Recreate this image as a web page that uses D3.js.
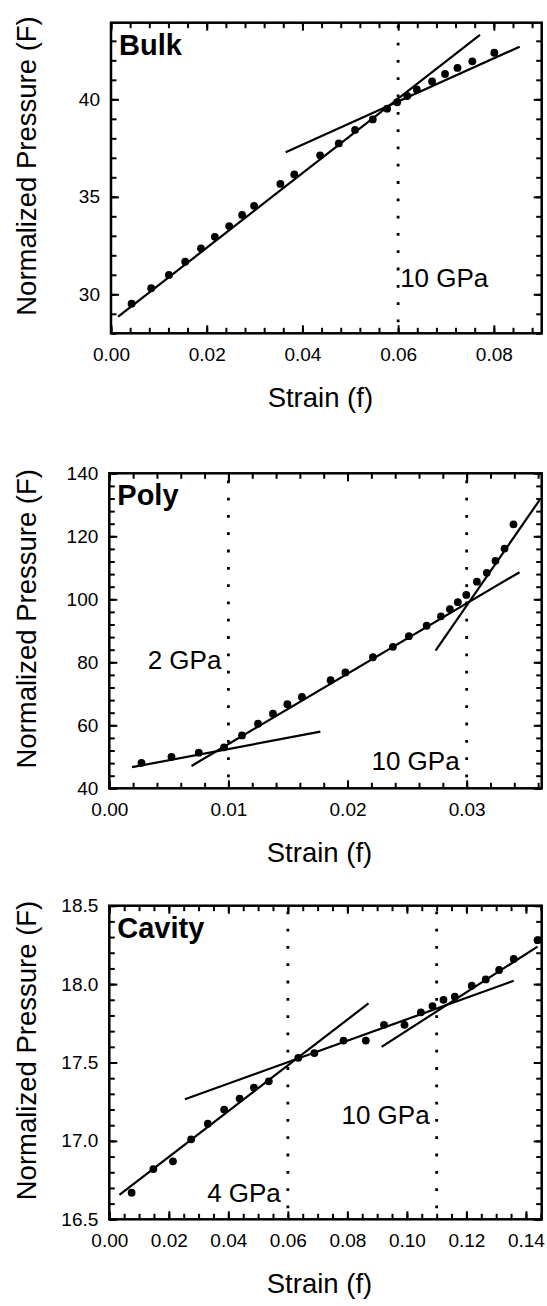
<!DOCTYPE html>
<html><head><meta charset="utf-8">
<script src="https://cdn.jsdelivr.net/npm/d3@7"></script>
<style>
body{margin:0;background:#fff}
svg{display:block;background:#fff}
text{font-family:"Liberation Sans",Arial,Helvetica,sans-serif;fill:#000}
</style>
</head><body><script>
// ---------- DATA ----------
// Bulk
const bulkStrain   = [0.0043,0.0084,0.0121,0.0155,0.0188,0.0217,0.0247,0.0274,0.0299,0.0354,0.0383,0.0437,0.0476,0.0510,0.0547,0.0577,0.0598,0.0619,0.0639,0.0671,0.0698,0.0724,0.0755,0.0801];
const bulkPressure = [29.52,30.31,30.99,31.67,32.36,32.95,33.50,34.07,34.54,35.66,36.15,37.13,37.74,38.43,38.97,39.52,39.85,40.17,40.51,40.92,41.30,41.61,41.95,42.39];
const bulkFits     = [[[0.0015,28.85],[0.0771,43.30]], [[0.0365,37.28],[0.0854,42.70]]];
const bulkMarks    = [0.06];
const bulkXTicks   = [0.00,0.02,0.04,0.06,0.08];
const bulkYTicks   = [30,35,40];
const bulkNotes    = [{text:"10 GPa", strain:0.06, pressure:30.36, anchor:"start"}];

// Poly
const polyStrain   = [0.00270,0.00522,0.00751,0.00963,0.01114,0.01248,0.01374,0.01495,0.01617,0.01858,0.01982,0.02213,0.02381,0.02515,0.02664,0.02784,0.02859,0.02926,0.02997,0.03086,0.03169,0.03242,0.03318,0.03393];
const polyPressure = [48.1,50.0,51.3,53.0,56.8,60.5,63.7,66.7,69.0,74.3,76.8,81.6,84.9,88.3,91.6,94.6,96.9,99.1,101.4,105.6,108.4,112.2,116.1,123.8];
const polyFits     = [[[0.00191,46.7],[0.01772,58.0]], [[0.0069,47.1],[0.03444,108.6]], [[0.02739,83.7],[0.03612,131.5]]];
const polyMarks    = [0.01,0.03];
const polyXTicks   = [0.00,0.01,0.02,0.03];
const polyYTicks   = [40,60,80,100,120,140];
const polyNotes    = [{text:"2 GPa", strain:0.01, pressure:77.9, anchor:"end"},
                      {text:"10 GPa", strain:0.03, pressure:45.7, anchor:"end"}];

// Cavity
const cavStrain    = [0.0075,0.0148,0.0214,0.0275,0.0331,0.0386,0.0438,0.0486,0.0536,0.0635,0.0689,0.0787,0.0862,0.0923,0.0992,0.1047,0.1086,0.1123,0.1161,0.1218,0.1265,0.1310,0.1359,0.1439];
const cavPressure  = [16.67,16.82,16.87,17.01,17.11,17.20,17.27,17.34,17.38,17.53,17.56,17.64,17.64,17.74,17.74,17.82,17.86,17.90,17.92,17.99,18.03,18.09,18.16,18.28];
const cavFits      = [[[0.0034,16.655],[0.0871,17.877]], [[0.0254,17.266],[0.1359,18.021]], [[0.0915,17.60],[0.1439,18.239]]];
const cavMarks     = [0.06,0.11];
const cavXTicks    = [0.00,0.02,0.04,0.06,0.08,0.10,0.12,0.14];
const cavYTicks    = [16.5,17.0,17.5,18.0,18.5];
const cavNotes     = [{text:"4 GPa", strain:0.06, pressure:16.612, anchor:"end"},
                      {text:"10 GPa", strain:0.11, pressure:17.108, anchor:"end"}];

const xTitle = "Strain (f)";
const yTitle = "Normalized Pressure (F)";

// ---------- LAYOUT ----------
const W = 547, H = 1306;
const FONT_TICK = 19, FONT_TITLE = 27.5, FONT_NAME = 29, FONT_NOTE = 26;

const panels = [
  {name:"Bulk", strain:bulkStrain, pressure:bulkPressure, fits:bulkFits, marks:bulkMarks,
   xTicks:bulkXTicks, yTicks:bulkYTicks, notes:bulkNotes,
   xDomain:[0,0.09], yDomain:[28,43.93], xMinor:0.004, yMinor:1,
   xFmt:".2f", yFmt:"d", box:{left:111,right:541.7,top:22.7,bottom:333.3}},
  {name:"Poly", strain:polyStrain, pressure:polyPressure, fits:polyFits, marks:polyMarks,
   xTicks:polyXTicks, yTicks:polyYTicks, notes:polyNotes,
   xDomain:[0,0.0363], yDomain:[40,140], xMinor:0.002, yMinor:4,
   xFmt:".2f", yFmt:"d", box:{left:109.3,right:541.7,top:473.3,bottom:788.3}},
  {name:"Cavity", strain:cavStrain, pressure:cavPressure, fits:cavFits, marks:cavMarks,
   xTicks:cavXTicks, yTicks:cavYTicks, notes:cavNotes,
   xDomain:[0,0.1453], yDomain:[16.5,18.5], xMinor:0.005, yMinor:0.1,
   xFmt:".2f", yFmt:".1f", box:{left:109.3,right:541.7,top:905.7,bottom:1219.3}}
];

const svg = d3.select("body").append("svg").attr("width", W).attr("height", H);

function minorTicks(lo, hi, step){
  return d3.range(Math.ceil(lo/step - 1e-6), Math.floor(hi/step + 1e-6) + 1).map(i => +(i*step).toFixed(6));
}

function styleAxis(sel, withText){
  sel.select(".domain").remove();
  sel.selectAll(".tick line").attr("stroke","#000").attr("stroke-width",2);
  if (withText) sel.selectAll(".tick text").attr("font-size",FONT_TICK).attr("fill","#000");
  else sel.selectAll(".tick text").remove();
}

panels.forEach((p, idx) => {
  const b = p.box;
  const x = d3.scaleLinear().domain(p.xDomain).range([b.left, b.right]);
  const y = d3.scaleLinear().domain(p.yDomain).range([b.bottom, b.top]);
  const g = svg.append("g");

  const clipId = "clip" + idx;
  svg.append("clipPath").attr("id", clipId).append("rect")
    .attr("x", b.left).attr("y", b.top).attr("width", b.right - b.left).attr("height", b.bottom - b.top);

  const xm = minorTicks(p.xDomain[0], p.xDomain[1], p.xMinor);
  const ym = minorTicks(p.yDomain[0], p.yDomain[1], p.yMinor);
  const MINOR = 5.5, MAJOR = 8;

  // minor ticks on all four sides
  g.append("g").attr("transform",`translate(0,${b.bottom})`)
    .call(d3.axisBottom(x).tickValues(xm).tickSize(-MINOR).tickFormat("")).call(s=>styleAxis(s,false));
  g.append("g").attr("transform",`translate(0,${b.top})`)
    .call(d3.axisTop(x).tickValues(xm).tickSize(-MINOR).tickFormat("")).call(s=>styleAxis(s,false));
  g.append("g").attr("transform",`translate(${b.left},0)`)
    .call(d3.axisLeft(y).tickValues(ym).tickSize(-MINOR).tickFormat("")).call(s=>styleAxis(s,false));
  g.append("g").attr("transform",`translate(${b.right},0)`)
    .call(d3.axisRight(y).tickValues(ym).tickSize(-MINOR).tickFormat("")).call(s=>styleAxis(s,false));

  // major ticks
  g.append("g").attr("transform",`translate(0,${b.bottom})`)
    .call(d3.axisBottom(x).tickValues(p.xTicks).tickSize(-MAJOR).tickPadding(14.5).tickFormat(d3.format(p.xFmt)))
    .call(s=>styleAxis(s,true));
  g.append("g").attr("transform",`translate(0,${b.top})`)
    .call(d3.axisTop(x).tickValues(p.xTicks).tickSize(-MAJOR).tickFormat("")).call(s=>styleAxis(s,false));
  g.append("g").attr("transform",`translate(${b.left},0)`)
    .call(d3.axisLeft(y).tickValues(p.yTicks).tickSize(-MAJOR).tickPadding(11).tickFormat(d3.format(p.yFmt)))
    .call(s=>styleAxis(s,true));
  g.append("g").attr("transform",`translate(${b.right},0)`)
    .call(d3.axisRight(y).tickValues(p.yTicks).tickSize(-MAJOR).tickFormat("")).call(s=>styleAxis(s,false));

  // dotted vertical marks
  g.selectAll(".mark").data(p.marks).enter().append("line")
    .attr("x1", d=>x(d)).attr("x2", d=>x(d))
    .attr("y1", b.bottom).attr("y2", b.top)
    .attr("stroke","#000").attr("stroke-width",2.8)
    .attr("stroke-dasharray","2.8 14.5").attr("stroke-dashoffset",-11);

  // fit lines
  const line = d3.line().x(d=>x(d[0])).y(d=>y(d[1]));
  g.append("g").attr("clip-path",`url(#${clipId})`)
    .selectAll("path").data(p.fits).enter().append("path")
    .attr("d", line).attr("fill","none").attr("stroke","#000").attr("stroke-width",2.2);

  // data points
  g.append("g").attr("clip-path",`url(#${clipId})`)
    .selectAll("circle").data(p.strain.map((s,i)=>[s,p.pressure[i]])).enter().append("circle")
    .attr("cx", d=>x(d[0])).attr("cy", d=>y(d[1])).attr("r",3.9).attr("fill","#000");

  // frame
  g.append("rect").attr("x",b.left).attr("y",b.top)
    .attr("width",b.right-b.left).attr("height",b.bottom-b.top)
    .attr("fill","none").attr("stroke","#000").attr("stroke-width",2.5);

  // notes
  g.selectAll(".note").data(p.notes).enter().append("text")
    .attr("x", d=>x(d.strain) + (d.anchor==="start" ? 2 : -7))
    .attr("y", d=>y(d.pressure))
    .attr("text-anchor", d=>d.anchor)
    .attr("font-size", FONT_NOTE)
    .text(d=>d.text);

  // panel name
  g.append("text").attr("x", b.left + 8).attr("y", b.top + 32)
    .attr("font-size", FONT_NAME).attr("font-weight","bold").text(p.name);

  // axis titles
  g.append("text").attr("x", (b.left+b.right)/2 - 6).attr("y", b.bottom + 73.4)
    .attr("text-anchor","middle").attr("font-size",FONT_TITLE).text(xTitle);
  g.append("text")
    .attr("transform",`translate(36,${(b.top+b.bottom)/2 - 12}) rotate(-90)`)
    .attr("text-anchor","middle").attr("font-size",FONT_TITLE).text(yTitle);
});
</script></body></html>
